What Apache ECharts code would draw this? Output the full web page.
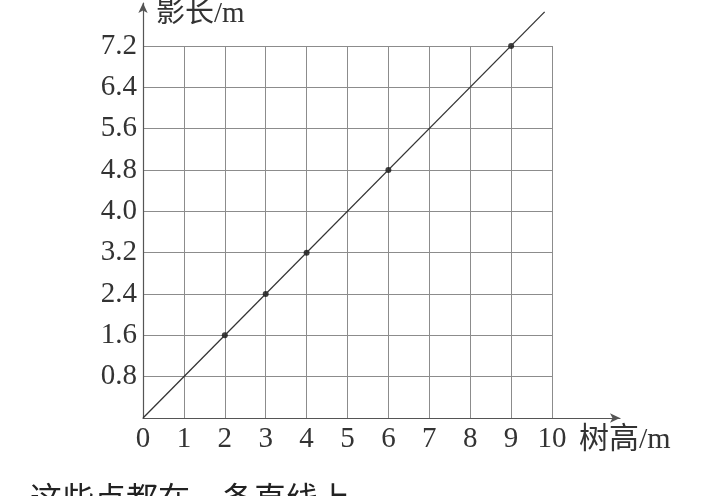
<!DOCTYPE html>
<html>
<head>
<meta charset="utf-8">
<script src="https://cdn.jsdelivr.net/npm/echarts@6/dist/echarts.min.js"></script>
<style>
  html, body { margin: 0; padding: 0; background: #fff; }
  #chart { width: 714px; height: 496px; }
</style>
</head>
<body>
<div id="chart"></div>
<script>
// 数据
var treeHeights = [2, 3, 4, 6, 9];
var shadowLengths = [1.6, 2.4, 3.2, 4.8, 7.2];
var lineX = [0, 9.82];
var lineY = [0, 7.86];
var xMax = 10, xStep = 1;
var yMax = 7.2, yStep = 0.8;

var serif = '"Liberation Serif", "DejaVu Serif", serif';
var cjk = '"Liberation Serif", "Noto Sans CJK SC", serif';

var chart = echarts.init(document.getElementById('chart'));
chart.setOption({
  animation: false,
  grid: [
    { left: 143, right: 162, top: 46, bottom: 78 },
    { left: 143, right: 94, top: 3, bottom: 78 }
  ],
  xAxis: [
    {
      gridIndex: 0, type: 'value', min: 0, max: xMax, interval: xStep,
      axisLine: { show: false },
      axisTick: { show: false },
      axisLabel: { color: '#333', fontFamily: serif, fontSize: 29, margin: 7 },
      splitLine: { show: true, lineStyle: { color: '#8c8c8c', width: 1 } }
    },
    {
      gridIndex: 1, type: 'value', min: 0, max: 1,
      axisLine: { show: true, symbol: ['none', 'arrow'], symbolSize: [7, 10],
        lineStyle: { color: '#555', width: 1.2 } },
      axisTick: { show: false }, axisLabel: { show: false }, splitLine: { show: false }
    }
  ],
  yAxis: [
    {
      gridIndex: 0, type: 'value', min: 0, max: yMax, interval: yStep,
      axisLine: { show: false },
      axisTick: { show: false },
      axisLabel: {
        color: '#333', fontFamily: serif, fontSize: 29, margin: 6,
        formatter: function (v) { return v === 0 ? '' : v.toFixed(1); }
      },
      splitLine: { show: true, lineStyle: { color: '#8c8c8c', width: 1 } }
    },
    {
      gridIndex: 1, type: 'value', min: 0, max: 1,
      axisLine: { show: true, symbol: ['none', 'arrow'], symbolSize: [7, 10],
        lineStyle: { color: '#555', width: 1.2 } },
      axisTick: { show: false }, axisLabel: { show: false }, splitLine: { show: false }
    }
  ],
  graphic: [
    { type: 'text', left: 156, top: 0,
      style: { text: '影长/m', font: '29px ' + cjk, fill: '#333' } },
    { type: 'text', left: 579, top: 425,
      style: { text: '树高/m', font: '30px ' + cjk, fill: '#333' } },
    { type: 'text', left: 30, top: 486,
      style: { text: '这些点都在一条直线上', font: '32px ' + cjk, fill: '#222' } }
  ],
  series: [
    {
      type: 'line', xAxisIndex: 0, yAxisIndex: 0, clip: false,
      showSymbol: false, silent: true,
      lineStyle: { color: '#333', width: 1.3 },
      data: lineX.map(function (x, i) { return [x, lineY[i]]; })
    },
    {
      type: 'scatter', xAxisIndex: 0, yAxisIndex: 0,
      symbolSize: 6, itemStyle: { color: '#111' },
      data: treeHeights.map(function (x, i) { return [x, shadowLengths[i]]; })
    }
  ]
});
</script>
</body>
</html>
